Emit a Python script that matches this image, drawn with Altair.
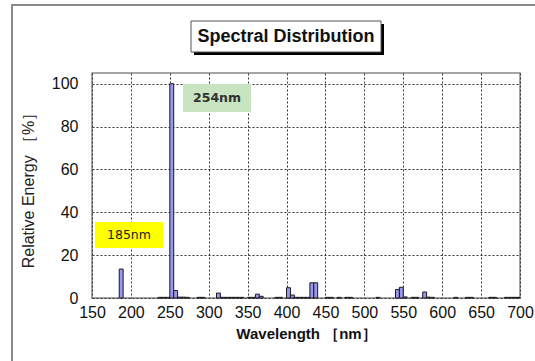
import altair as alt
import pandas as pd

# ---- data (5 nm bins: start wavelength, relative energy %) ----
bin_start = [185, 235, 240, 245, 250, 255, 260, 265, 270, 285, 290,
             310, 315, 320, 325, 330, 335, 340, 350, 355, 360, 365,
             385, 390, 400, 405, 410, 415, 420, 425, 430, 435,
             450, 455, 465, 475, 480, 515, 540, 545, 550, 560, 565,
             575, 580, 585, 615, 630, 635, 660, 665, 680, 685, 690, 695]
energy = [13.5, 0.3, 0.3, 0.3, 100, 3.5, 0.4, 0.4, 0.3, 0.3, 0.3,
          2.3, 0.3, 0.3, 0.3, 0.3, 0.3, 0.3, 0.3, 0.3, 1.8, 0.8,
          0.3, 0.3, 4.8, 1.4, 0.3, 0.3, 0.3, 0.3, 7.1, 7.1,
          0.3, 0.3, 0.3, 0.3, 0.3, 0.3, 4.0, 5.0, 0.5, 0.3, 0.3,
          2.8, 0.4, 0.3, 0.3, 0.3, 0.3, 0.3, 0.3, 0.3, 0.3, 0.3, 0.3]
bin_width = 5

x_ticks = list(range(150, 701, 50))
y_ticks = list(range(0, 101, 20))

title_text = "Spectral Distribution"
x_title = "Wavelength ［nm］"
y_title = "Relative Energy ［%］"
note_labels = ["185nm", "254nm"]

df = pd.DataFrame({"start": bin_start, "energy": energy})
df["end"] = df["start"] + bin_width

W, H = 428, 225
FONT = "Liberation Sans"

x_scale = alt.Scale(domain=[150, 700], nice=False, zero=False)
y_scale = alt.Scale(domain=[0, 105], nice=False)

bars = alt.Chart(df).mark_rect(
    fill="#9898F2", stroke="#1a1a1a", strokeWidth=1
).encode(
    x=alt.X("start:Q", scale=x_scale,
            axis=alt.Axis(values=x_ticks, title=x_title, grid=True,
                          gridDash=[2, 2], gridColor="#333", gridWidth=1,
                          ticks=False, domain=False, labelPadding=6,
                          labelFlush=False, labelOverlap=False,
                          labelFontSize=16, labelFont=FONT, labelColor="#111",
                          titleFont=FONT, titleFontSize=15, titleFontWeight="bold",
                          titleColor="#111", titleY=35, titleBaseline="middle")),
    x2="end:Q",
    y=alt.Y("energy:Q", scale=y_scale,
            axis=alt.Axis(values=y_ticks, title=y_title, grid=True,
                          gridDash=[2, 2], gridColor="#333", gridWidth=1,
                          ticks=False, domain=False, labelPadding=14,
                          labelFlush=False, labelOverlap=False,
                          labelFontSize=16, labelFont=FONT, labelColor="#111",
                          titleFont=FONT, titleFontSize=16, titleFontWeight="normal",
                          titleColor="#222", titleX=-64, titleY=113,
                          titleAngle=270, titleAlign="center",
                          titleBaseline="middle")),
    y2=alt.datum(0),
)

one = pd.DataFrame({"k": [0]})
base = alt.Chart(one)

# outer frame of the chart area
frame = base.mark_rect(fill="transparent", stroke="#8a8a8a", strokeWidth=2).encode(
    x=alt.value(-80), x2=alt.value(470), y=alt.value(-68), y2=alt.value(300))

# title box with shadow
title_shadow = base.mark_rect(fill="#000").encode(
    x=alt.value(102), x2=alt.value(292), y=alt.value(-49), y2=alt.value(-18))
title_box = base.mark_rect(fill="white", stroke="#555", strokeWidth=1).encode(
    x=alt.value(99), x2=alt.value(289), y=alt.value(-52), y2=alt.value(-21))
title_txt = base.mark_text(font=FONT, fontSize=18, fontWeight="bold",
                           color="#111", baseline="middle", align="center").encode(
    x=alt.value(194), y=alt.value(-36), text=alt.value(title_text))

# annotation boxes
box185 = base.mark_rect(fill="#FFFF00").encode(
    x=alt.value(3), x2=alt.value(71), y=alt.value(149), y2=alt.value(175))
txt185 = base.mark_text(font="DejaVu Sans", fontSize=12.5, color="#222",
                        baseline="middle", align="center").encode(
    x=alt.value(37), y=alt.value(162), text=alt.value(note_labels[0]))
box254 = base.mark_rect(fill="#C9E4C0").encode(
    x=alt.value(91), x2=alt.value(159), y=alt.value(11), y2=alt.value(39))
txt254 = base.mark_text(font="DejaVu Sans", fontSize=12.5, fontWeight="bold", color="#333",
                        baseline="middle", align="center").encode(
    x=alt.value(125), y=alt.value(25), text=alt.value(note_labels[1]))

chart = alt.layer(
    frame, bars, box185, txt185, box254, txt254, title_shadow, title_box, title_txt
).properties(
    width=W, height=H,
    autosize=alt.AutoSizeParams(type="none"),
    padding={"left": 92, "top": 73, "right": 15, "bottom": 63},
    background="white",
).configure_view(
    stroke="#888", strokeWidth=1.5
)

chart.save("out.html", embed_options={"renderer": "svg", "actions": False})
